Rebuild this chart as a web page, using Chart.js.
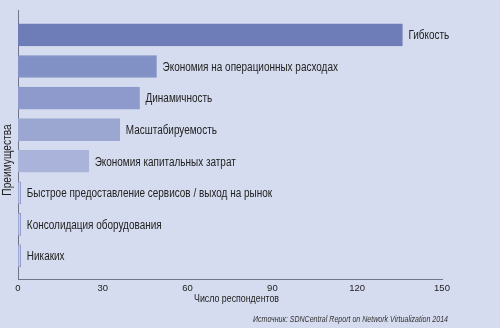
<!DOCTYPE html>
<html><head><meta charset="utf-8">
<script src="https://cdn.jsdelivr.net/npm/chart.js@4"></script>
<style>html,body{margin:0;padding:0;background:#d6dcef;}#wrap{width:500px;height:328px;}</style>
</head><body><div id="wrap"><canvas id="c" width="500" height="328"></canvas></div>
<script>
const categories = ["Гибкость","Экономия на операционных расходах","Динамичность","Масштабируемость","Экономия капитальных затрат","Быстрое предоставление сервисов / выход на рынок","Консолидация оборудования","Никаких"];
const values = [136, 49, 43, 36, 25, 1, 1, 1];
const xTicks = [0, 30, 60, 90, 120, 150];
const yTitle = "Преимущества";
const xTitle = "Число респондентов";
const sourceText = "Источник: SDNCentral Report on Network Virtualization 2014";

const fills = ["#6e7db7","#8190c5","#8d9acb","#9ba6d1","#aab4da","#c4cbe8","#c4cbe8","#c4cbe8"];
const borders = ["#6e7db7","#8190c5","#8d9acb","#9ba6d1","#aab4da","#8f9bcc","#8f9bcc","#8f9bcc"];
const FONT = "'Liberation Sans', Arial, sans-serif";

const points = values.map((v, i) => ({x: v, y: i}));

// draw horizontally condensed text
function condText(ctx, text, x, y, sx) {
  ctx.save();
  ctx.translate(x, y);
  ctx.scale(sx, 1);
  ctx.fillText(text, 0, 0);
  ctx.restore();
}

const labelPlugin = {
  id: 'labels',
  afterDatasetsDraw(chart) {
    const ctx = chart.ctx;
    const meta = chart.getDatasetMeta(0);
    ctx.save();
    ctx.font = "12px " + FONT;
    ctx.fillStyle = "#222";
    ctx.textBaseline = "middle";
    ctx.textAlign = "left";
    meta.data.forEach((bar, i) => {
      condText(ctx, categories[i], bar.x + 6, bar.y + 1, 0.83);
    });
    // y title
    ctx.save();
    ctx.font = "12px " + FONT;
    ctx.translate(8, 160);
    ctx.rotate(-Math.PI / 2);
    ctx.scale(0.85, 1);
    ctx.textAlign = "center";
    ctx.fillText(yTitle, 0, 0);
    ctx.restore();
    // x title
    ctx.font = "10.5px " + FONT;
    ctx.textAlign = "left";
    condText(ctx, xTitle, 194, 299, 0.84);
    // source
    ctx.font = "italic 8.5px " + FONT;
    ctx.textAlign = "right";
    ctx.fillStyle = "#333";
    condText(ctx, sourceText, 448, 320, 0.83);
    ctx.restore();
  }
};

new Chart(document.getElementById('c'), {
  type: 'bar',
  data: {
    datasets: [{
      data: points,
      backgroundColor: fills,
      borderColor: borders,
      borderWidth: 1,
      barThickness: 22,
      borderSkipped: false
    }]
  },
  options: {
    indexAxis: 'y',
    responsive: false,
    animation: false,
    events: [],
    layout: { padding: { top: 10, right: 58, left: 0, bottom: 0 } },
    plugins: { legend: { display: false }, tooltip: { enabled: false } },
    scales: {
      x: {
        type: 'linear',
        min: 0, max: 150,
        afterBuildTicks(scale) { scale.ticks = xTicks.map(v => ({value: v})); },
        afterFit(scale) { scale.height = 49; },
        grid: { display: false, drawTicks: false },
        border: { display: true, color: '#70758a', width: 1 },
        ticks: { padding: 4, color: '#222', font: { family: FONT, size: 9.5 } }
      },
      y: {
        type: 'linear',
        reverse: true,
        offset: false,
        min: -0.79, max: 7.73,
        afterFit(scale) { scale.width = 18; },
        grid: { display: false, drawTicks: false },
        border: { display: true, color: '#70758a', width: 1 },
        ticks: { display: false }
      }
    }
  },
  plugins: [labelPlugin]
});
</script></body></html>
